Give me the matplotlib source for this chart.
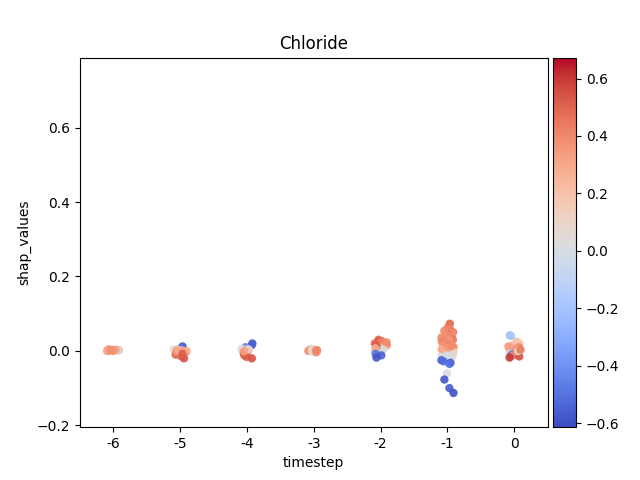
import numpy as np
import pandas as pd
import matplotlib
matplotlib.use("Agg")
import matplotlib.pyplot as plt
import seaborn as sns
from mpl_toolkits.axes_grid1 import make_axes_locatable

# ---------- data ----------
FEATURE = "Chloride"
TIMESTEPS = [-6, -5, -4, -3, -2, -1, 0]

shap_m6 = [0.002, 0.001, 0.003, 0.000, 0.002, 0.001, 0.004, 0.002, 0.000, 0.003, 0.001, 0.002, 0.003, 0.001]
feat_m6 = [0.35, 0.05, 0.38, 0.30, 0.42, 0.02, 0.33, 0.36, 0.45, 0.30, 0.28, 0.40, 0.34, 0.38]

shap_m5 = [0.012, 0.008, 0.004, 0.002, 0.000, -0.002, 0.001, -0.004, -0.006, -0.010, -0.014, -0.020,
           0.003, -0.001, 0.002, -0.003, 0.000, -0.008]
feat_m5 = [-0.58, -0.50, 0.05, 0.30, 0.35, 0.32, 0.38, 0.40, 0.45, 0.50, 0.48, 0.55,
           0.10, 0.36, 0.30, 0.42, 0.28, 0.52]

shap_m4 = [0.020, 0.015, 0.010, 0.006, 0.003, 0.000, -0.002, -0.004, 0.001, -0.006, -0.008, -0.012,
           -0.016, -0.020, 0.004, -0.001]
feat_m4 = [-0.58, -0.55, -0.45, 0.02, 0.05, 0.35, 0.38, 0.30, 0.40, 0.42, 0.45, 0.48,
           0.52, 0.55, 0.10, 0.33]

shap_m3 = [0.006, 0.004, 0.003, 0.002, 0.001, 0.000, -0.001, -0.002, -0.003, 0.002, 0.000, -0.004, 0.005, 0.001]
feat_m3 = [0.02, 0.05, 0.30, 0.35, 0.40, 0.38, 0.33, 0.05, 0.02, 0.45, 0.28, 0.36, 0.10, 0.42]

shap_m2 = [0.030, 0.027, 0.025, 0.022, 0.020, 0.018, 0.015, 0.013, 0.010, 0.008, 0.005, 0.003,
           0.000, -0.002, -0.004, 0.012, 0.017, 0.007, -0.008, -0.012, -0.018, 0.023]
feat_m2 = [0.50, 0.45, 0.55, 0.42, 0.48, 0.40, 0.38, 0.35, 0.33, 0.30, 0.05, 0.02,
           0.00, 0.03, 0.05, 0.45, 0.52, 0.28, -0.50, -0.55, -0.58, 0.40]

shap_m1 = [0.073, 0.063, 0.058, 0.054, 0.050, 0.047, 0.044, 0.041, 0.038, 0.035,
           0.032, 0.030, 0.028, 0.025, 0.022, 0.020, 0.018, 0.015, 0.012, 0.010,
           0.008, 0.006, 0.004, 0.002, 0.000, -0.002, -0.004, -0.006, -0.008, -0.010,
           -0.012, -0.014, -0.016, -0.018, -0.020, -0.025, -0.028, -0.032, -0.035, -0.060,
           -0.077, -0.100, -0.113, 0.016, 0.026, 0.036, 0.005, -0.003, 0.009, 0.013]
feat_m1 = [0.50, 0.45, 0.42, 0.40, 0.45, 0.38, 0.43, 0.40, 0.36, 0.42,
           0.38, 0.44, 0.35, 0.40, 0.37, 0.45, 0.33, 0.40, 0.35, 0.38,
           0.30, 0.36, 0.32, 0.25, 0.20, 0.05, 0.00, 0.03, -0.02, 0.02,
           0.00, 0.05, -0.03, 0.02, 0.00, -0.55, -0.52, -0.58, -0.50, 0.00,
           -0.58, -0.56, -0.60, 0.42, 0.38, 0.40, 0.30, 0.10, 0.35, 0.40]

shap_0 = [0.042, 0.040, 0.025, 0.020, 0.015, 0.012, 0.010, 0.008, 0.006, 0.004, 0.002, 0.000,
          -0.002, -0.004, -0.006, -0.008, -0.010, -0.012, -0.015, -0.018, 0.005, -0.001, 0.003]
feat_0 = [-0.22, -0.18, 0.20, 0.18, 0.22, 0.35, 0.40, 0.30, 0.38, 0.33, 0.42, 0.05,
          0.00, 0.36, 0.45, 0.02, -0.50, 0.40, 0.55, 0.60, 0.35, 0.08, 0.44]

SHAP = [shap_m6, shap_m5, shap_m4, shap_m3, shap_m2, shap_m1, shap_0]
FEAT = [feat_m6, feat_m5, feat_m4, feat_m3, feat_m2, feat_m1, feat_0]

FEAT_MIN, FEAT_MAX = -0.614, 0.673
Y_LIM = (-0.205, 0.788)

# ---------- build frame ----------
rows = []
for t, s_vals, f_vals in zip(TIMESTEPS, SHAP, FEAT):
    for s, f in zip(s_vals, f_vals):
        rows.append({"timestep": t, "shap_values": s, "feature_value": f})
df = pd.DataFrame(rows)

# ---------- plot ----------
np.random.seed(3)  # seaborn jitter
fig, ax = plt.subplots(figsize=(6.4, 4.8), dpi=100)

norm = plt.Normalize(FEAT_MIN, FEAT_MAX)
sns.stripplot(
    data=df, x="timestep", y="shap_values", hue="feature_value",
    palette="coolwarm", hue_norm=norm, legend=False, size=6, alpha=0.9, ax=ax,
)
ax.set_ylim(*Y_LIM)
ax.set_title(FEATURE)

divider = make_axes_locatable(ax)
cax = divider.append_axes("right", size="5%", pad=0.05)
sm = plt.cm.ScalarMappable(cmap="coolwarm", norm=norm)
sm.set_array([])
fig.colorbar(sm, cax=cax)

plt.savefig("out.png")
